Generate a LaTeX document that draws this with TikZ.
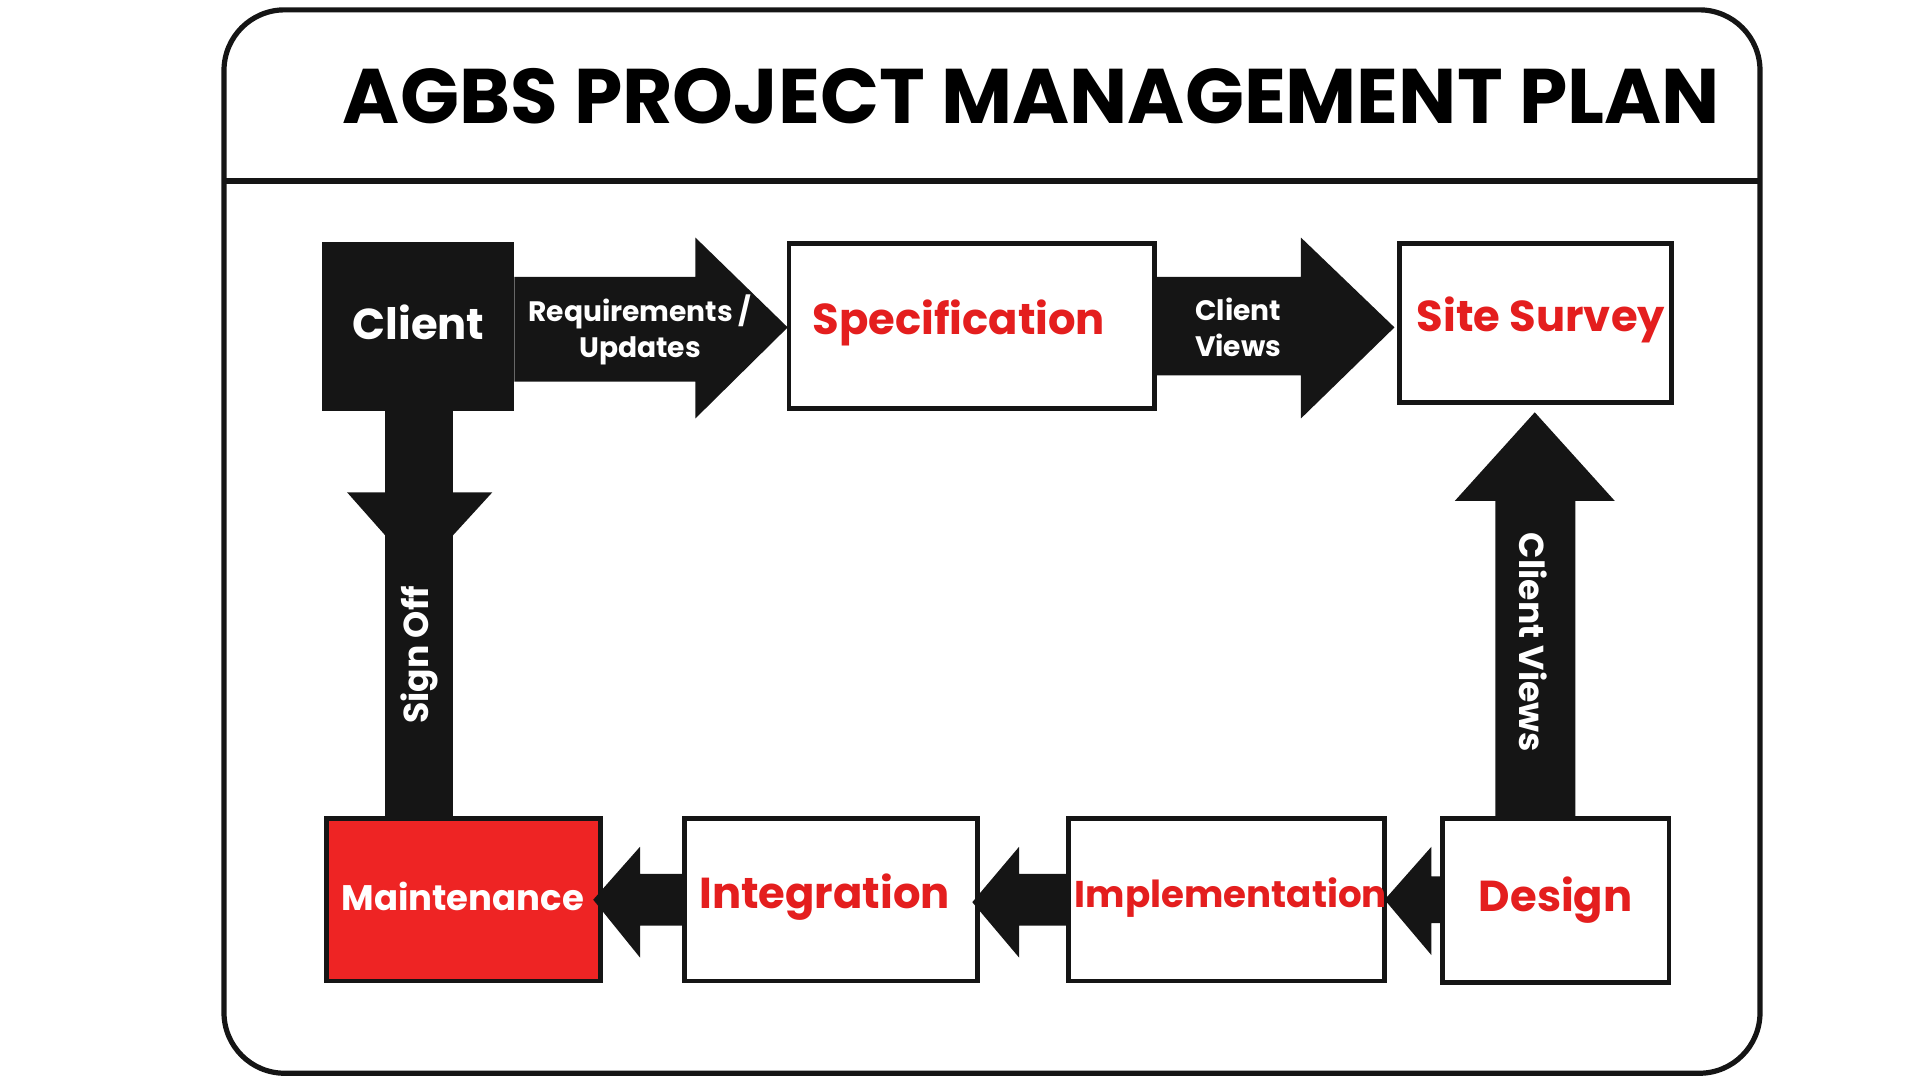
\documentclass[tikz,border=0pt]{standalone}
\usepackage{fontspec}
\setmainfont{Poppins}
\definecolor{rd}{HTML}{E41E1E}
\definecolor{rfill}{HTML}{EE2424}
\definecolor{bk}{HTML}{151515}
\begin{document}
\begin{tikzpicture}[x=0.01cm,y=-0.01cm,
  box/.style={draw=bk,line width=1.1pt,fill=white},
  lbl/.style={font=\bfseries\fontsize{10}{12}\selectfont,text=rd},
  wl/.style={font=\bfseries\fontsize{6.5}{8.5}\selectfont,text=white,align=center},
  arr/.style={fill=bk}]
\useasboundingbox (0,0) rectangle (1560,878);
% frame
\draw[line width=1.2pt,rounded corners=14pt,bk] (182,8) rectangle (1430,872);
\draw[line width=1.2pt,bk] (182,147) -- (1430,147);
\node (title) at (838,78) {\resizebox{11.18cm}{!}{\bfseries AGBS PROJECT MANAGEMENT PLAN}};
% boxes
\fill[bk] (262,197) rectangle (418,334);
\node (client) at (340,262) {\bfseries\fontsize{10}{12}\selectfont\color{white}Client};
\draw[box] (641,198) rectangle (938,332);
\node[lbl] (spec) at (779,262) {Specification};
\draw[box] (1137,198) rectangle (1358,327);
\node[lbl] (site) at (1252,260) {Site Survey};
\draw[box] (1172,665) rectangle (1356,798);
\node[lbl] (design) at (1264,731) {Design};
\draw[box] (868,665) rectangle (1125,797);
\node[lbl,font=\bfseries\fontsize{8.6}{10}\selectfont] (impl) at (1000,729) {Implementation};
\draw[box] (556,665) rectangle (794,797);
\node[lbl] (integ) at (670,729) {Integration};
\draw[line width=1.1pt,draw=bk,fill=rfill] (265,665) rectangle (488,797);
\node[font=\bfseries\fontsize{8.2}{10}\selectfont,text=white] (maint) at (376,728) {Maintenance};
% arrows top
\fill[arr] (418,225) -- (565,225) -- (565,193) -- (640,266) -- (565,340) -- (565,310) -- (418,310) -- cycle;
\node[wl] (req) at (520,268) {Requirements /\\Updates};
\fill[arr] (938,225) -- (1057,225) -- (1057,193) -- (1133,266) -- (1057,340) -- (1057,305) -- (938,305) -- cycle;
\node[wl] (cv1) at (1006,266) {Client\\Views};
% up arrow
\fill[arr] (1215,665) -- (1215,407) -- (1182,407) -- (1247,335) -- (1312,407) -- (1280,407) -- (1280,665) -- cycle;
\node[wl,font=\bfseries\fontsize{8}{10}\selectfont,rotate=-90] (cv2) at (1246,522) {Client Views};
% down arrow
\fill[arr] (313,334) -- (368,334) -- (368,400) -- (400,400) -- (368,435) -- (368,665) -- (313,665) -- (313,435) -- (282,400) -- (313,400) -- cycle;
\node[wl,font=\bfseries\fontsize{8}{10}\selectfont,rotate=90] (so) at (341,532) {Sign Off};
% bottom arrows
\fill[arr] (1172,712) -- (1163,712) -- (1163,688) -- (1125,731) -- (1163,776) -- (1163,750) -- (1172,750) -- cycle;
\fill[arr] (868,710) -- (828,710) -- (828,688) -- (790,733) -- (828,778) -- (828,752) -- (868,752) -- cycle;
\fill[arr] (556,710) -- (520,710) -- (520,688) -- (482,731) -- (520,778) -- (520,752) -- (556,752) -- cycle;
\end{tikzpicture}
\end{document}
